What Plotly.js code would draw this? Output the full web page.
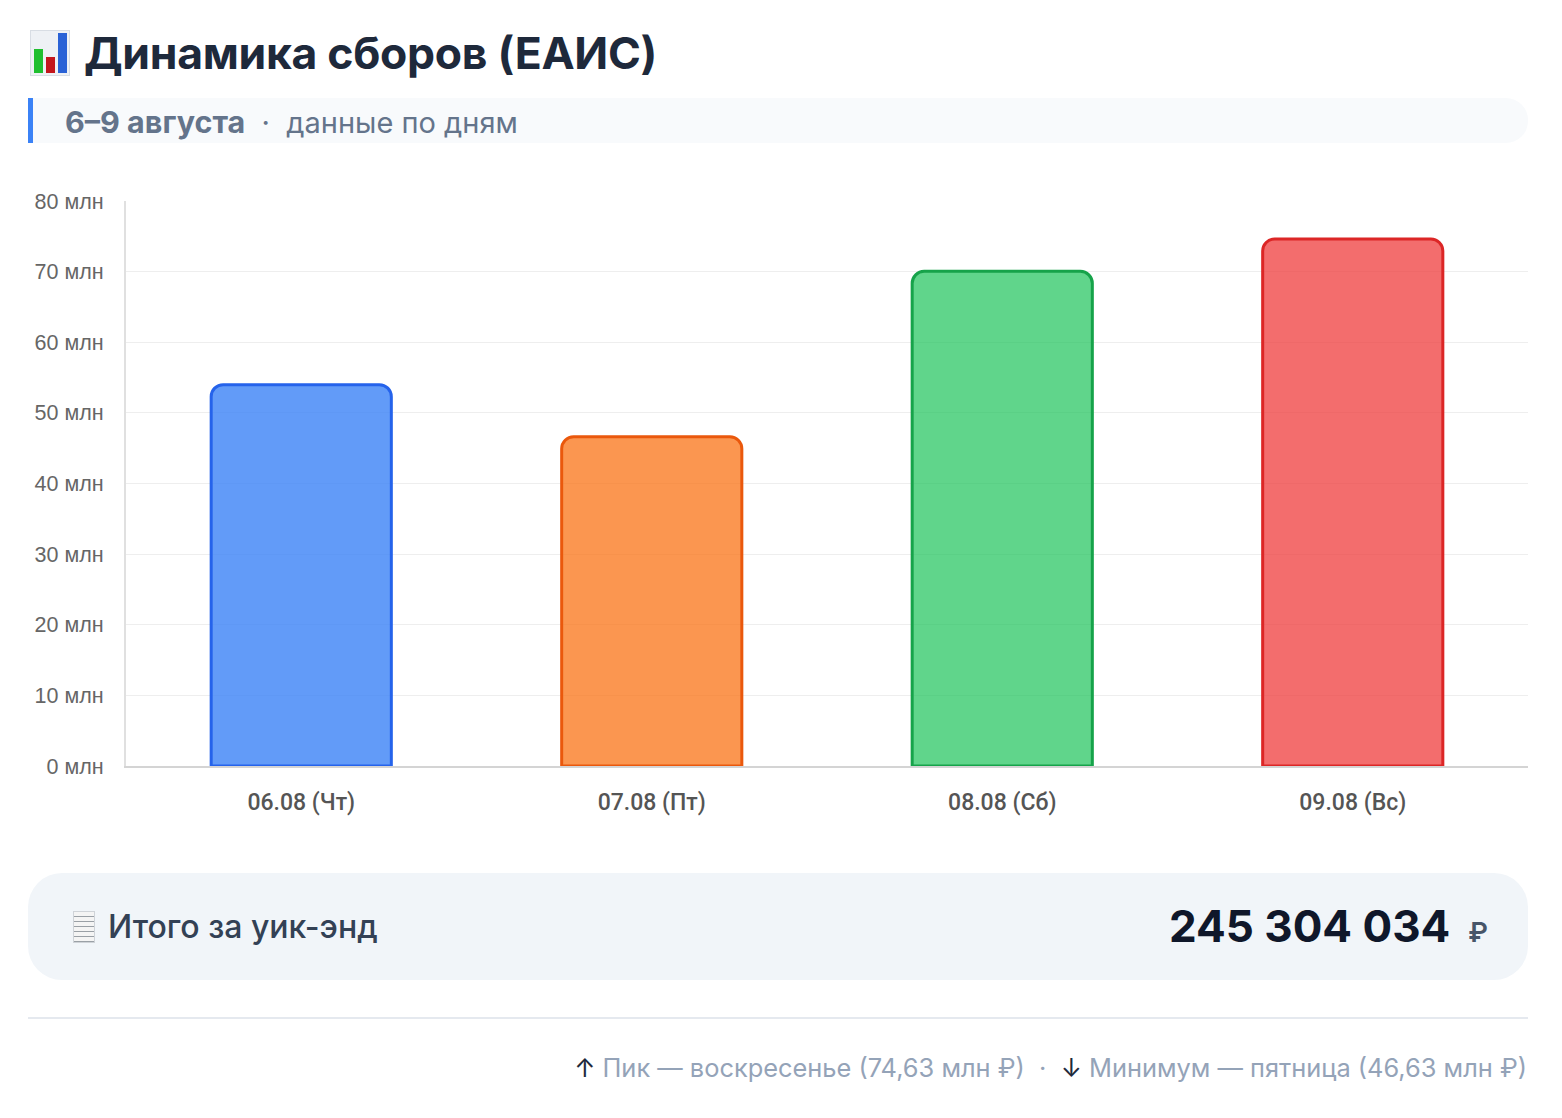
<!DOCTYPE html>
<html>
<head>
<meta charset="utf-8">
<script src="https://cdn.plot.ly/plotly-3.0.1.min.js"></script>
<style>
  body { margin: 0; background: #fff; font-family: Inter, "Noto Sans", sans-serif; }
  .page { position: relative; width: 1562px; height: 1118px; }
  .title { position: absolute; left: 30px; top: 26px; font-size: 44.5px; font-weight: 700; color: #1e293b; display: flex; align-items: center; letter-spacing: -0.3px; }
  .icon-chart { width: 40px; height: 46px; margin-right: 14px; position: relative; background: #eef1f5; border: 1px solid #d8dde4; box-sizing: border-box; }
  .icon-chart span { position: absolute; bottom: 2px; width: 9px; }
  .sub { position: absolute; left: 28px; top: 98px; width: 1500px; height: 45px; background: #f8fafc; border-left: 5px solid #3b82f6; border-radius: 0 22px 22px 0; box-sizing: border-box; padding-left: 32px; font-size: 29px; color: #64748b; line-height: 47px; }
  .sub b { font-weight: 700; font-size: 30.5px; }
  #chart { position: absolute; left: 0; top: 170px; width: 1562px; height: 660px; }
  .total { position: absolute; left: 28px; top: 873px; width: 1500px; height: 107px; background: #f1f5f9; border-radius: 34px; }
  .total .lbl { position: absolute; left: 45px; top: 0; line-height: 107px; font-size: 32px; font-weight: 500; color: #334155; display: flex; align-items: center; }
  .icon-rcpt { width: 22px; height: 32px; background: #f4f4f4; border: 1px solid #cfd3d8; margin-right: 13px; box-sizing: border-box; background-image: repeating-linear-gradient(#f4f4f4 0 4px, #9aa0a6 4px 5px); }
  .total .val { position: absolute; right: 40px; top: 0; line-height: 107px; color: #0f172a; }
  .total .val b { font-size: 44px; font-weight: 700; }
  .total .val span { font-size: 27px; color: #475569; margin-left: 18px; font-weight: 600; }
  .rule { position: absolute; left: 28px; top: 1017px; width: 1500px; height: 2px; background: #e5e9ef; }
  .foot { position: absolute; right: 35px; top: 1052px; font-size: 25.4px; color: #94a3b8; }
  .foot i { font-style: normal; color: #1e293b; }
</style>
</head>
<body>
<div class="page">
  <div class="title">
    <div class="icon-chart">
      <span style="left:3px;height:24px;background:#1fbf2f"></span>
      <span style="left:15px;height:16px;background:#c4161c"></span>
      <span style="left:27px;height:40px;background:#2a62d6"></span>
    </div>
    Динамика сборов (ЕАИС)
  </div>
  <div class="sub"><b>6–9 августа</b> &nbsp;·&nbsp; данные по дням</div>
  <div id="chart"></div>
  <div class="total">
    <div class="lbl"><div class="icon-rcpt"></div>Итого за уик-энд</div>
    <div class="val"><b>245 304 034</b><span>₽</span></div>
  </div>
  <div class="rule"></div>
  <div class="foot"><i>↑</i> Пик — воскресенье (74,63 млн ₽) &nbsp;·&nbsp; <i>↓</i> Минимум — пятница (46,63 млн ₽)</div>
</div>
<script>
// daily box office, million rubles
var days = ["06.08 (Чт)", "07.08 (Пт)", "08.08 (Сб)", "09.08 (Вс)"];
var grossMln = [54.0, 46.63, 70.04, 74.63];
var fillColors = ["rgba(59,130,246,0.8)", "rgba(249,115,22,0.75)", "rgba(34,197,94,0.72)", "rgba(239,68,68,0.78)"];
var lineColors = ["#2563eb", "#ea580c", "#16a34a", "#dc2626"];

var data = [{
    type: "bar",
    x: days,
    y: grossMln,
    marker: {
        color: fillColors,
        line: {color: lineColors, width: 3},
        cornerradius: 12
    },
    hoverinfo: "none"
}];

var layout = {
    margin: {l: 126, r: 34, t: 31, b: 64},
    paper_bgcolor: "#fff",
    plot_bgcolor: "#fff",
    bargap: 0.486,
    showlegend: false,
    font: {family: "Liberation Sans, Arial, sans-serif"},
    xaxis: {
        showgrid: false,
        showline: true,
        linecolor: "#d4d4d4",
        linewidth: 2,
        ticks: "",
        ticklabelstandoff: 14,
        tickfont: {family: "Roboto, Liberation Sans, sans-serif", size: 23, color: "#555", weight: 500}
    },
    yaxis: {
        range: [0, 80],
        dtick: 10,
        ticksuffix: " млн",
        showline: true,
        linecolor: "#e0e0e0",
        linewidth: 2,
        gridcolor: "#eeeeee",
        gridwidth: 1,
        zeroline: false,
        ticks: "",
        ticklabelstandoff: 16,
        tickfont: {size: 21.5, color: "#666"}
    }
};

Plotly.newPlot("chart", data, layout, {displayModeBar: false, staticPlot: true});
</script>
</body>
</html>
